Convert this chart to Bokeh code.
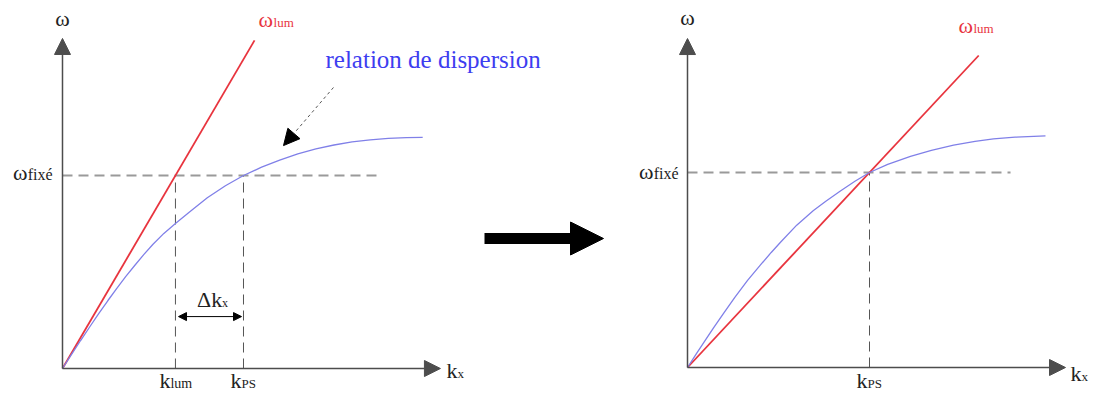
from bokeh.plotting import figure
from bokeh.models import Range1d, Arrow, NormalHead
from bokeh.core.properties import value
from bokeh.embed import file_html
from bokeh.resources import INLINE

# ---------------- data (normalised units: omega_fixe = 1, k_PS = 1) ----------------
omega_fixe = 1.0
k_lum = 0.624
k_ps = 1.0

# left panel: dispersion relation (below the light line)
left_disp_k = [0, 0.05, 0.1, 0.15, 0.2, 0.25, 0.3, 0.35, 0.4, 0.45, 0.5, 0.56, 0.624, 0.7,
               0.8, 0.9, 1.0, 1.1, 1.2, 1.3, 1.4, 1.5, 1.6, 1.7, 1.8, 1.9, 1.99]
left_disp_w = [0, 0.073, 0.145, 0.215, 0.284, 0.351, 0.415, 0.477, 0.535, 0.591, 0.644, 0.70,
               0.751, 0.81, 0.885, 0.947, 1.0, 1.043, 1.08, 1.112, 1.138, 1.158, 1.174,
               1.185, 1.192, 1.196, 1.198]
left_light_k = [0, 1.061]
left_light_w = [0, 1.70]

# right panel: dispersion relation crossing the light line at k_PS
right_disp_k = [0, 0.05, 0.1, 0.143, 0.2, 0.26, 0.33, 0.4, 0.46, 0.511, 0.6, 0.692, 0.76,
                0.84, 0.92, 1.0, 1.1, 1.225, 1.34, 1.462, 1.58, 1.681, 1.8, 1.967]
right_disp_w = [0, 0.072, 0.143, 0.203, 0.28, 0.36, 0.447, 0.525, 0.59, 0.642, 0.73, 0.805,
                0.853, 0.905, 0.955, 1.0, 1.042, 1.083, 1.114, 1.14, 1.16, 1.172, 1.181, 1.188]
right_light_k = [0, 1.6]
right_light_w = [0, 1.6]

FONT = value("Liberation Serif")
AXIS = "#4d4d4d"
RED = "#e8343e"
BLUE_LINE = "#8080e8"
BLUE_TEXT = "#3d3df0"
DASH_H = "#9a9a9a"
DASH_V = "#555555"
TXT = "#222222"

p = figure(width=1093, height=393,
           x_range=Range1d(-0.34254, 5.69613), y_range=Range1d(-0.12953, 1.90674),
           toolbar_location=None, output_backend="svg", min_border=0,
           x_axis_location=None, y_axis_location=None)
p.extra_x_ranges = {"rk": Range1d(-3.77473, 2.23077), "px": Range1d(0, 1093)}
p.extra_y_ranges = {"rw": Range1d(-0.13333, 1.88205), "px": Range1d(393, 0)}
p.grid.visible = False
p.outline_line_color = None
p.background_fill_color = "white"
p.border_fill_color = "white"

LEFT = dict(x_range_name="default", y_range_name="default")
RIGHT = dict(x_range_name="rk", y_range_name="rw")


def txt(x, y, s, size, color=TXT, align="left", x_off=0, rn=LEFT):
    # the renderer puts the baseline about 0.3 em below the anchor: compensate
    px = float(size.replace("px", ""))
    p.text(x=[x], y=[y], text=[s], text_font=FONT, text_font_size=size,
           text_color=color, text_align=align, text_baseline="alphabetic",
           x_offset=x_off, y_offset=-0.3 * px, **rn)


def axes(x_tip, y_tip, rn):
    for xe, ye in [(x_tip, 0), (0, y_tip)]:
        p.add_layout(Arrow(end=NormalHead(size=16, fill_color=AXIS, line_color=AXIS),
                           x_start=0, y_start=0, x_end=xe, y_end=ye,
                           line_color=AXIS, line_width=1.5, **rn))


def sub_label(x, y, main, sub, main_w, sub_w, main_size="22px", sub_size="13px",
              color=TXT, center=True, rn=LEFT):
    start = -(main_w + sub_w) / 2 if center else 0
    txt(x, y, main, main_size, color, "left", start, rn)
    txt(x, y, sub, sub_size, color, "left", start + main_w, rn)


# ---------------- left panel ----------------
axes(2.088, 1.710, LEFT)
p.line([0, 1.768], [omega_fixe, omega_fixe], line_color=DASH_H, line_width=1.8, line_dash="10 6")
p.line([k_lum, k_lum], [0, omega_fixe], line_color=DASH_V, line_width=1, line_dash="10 6")
p.line([k_ps, k_ps], [0, omega_fixe], line_color=DASH_V, line_width=1, line_dash="10 6")
p.line(left_light_k, left_light_w, line_color=RED, line_width=1.8)
p.line(left_disp_k, left_disp_w, line_color=BLUE_LINE, line_width=1.3)

txt(0, 1.777, "ω", "22px", align="center")
sub_label(1.083, 1.772, "ω", "lum", 15, 20, color=RED, center=False)
txt(-0.055, 0.979, "fixé", "16px", align="right")
txt(-0.055, 0.979, "ω", "22px", align="right", x_off=-25)
sub_label(2.122, -0.0466, "k", "x", 11, 7, center=False)
sub_label(k_lum, -0.0984, "k", "lum", 11, 21, sub_size="14px")
sub_label(k_ps, -0.0984, "k", "PS", 11, 15)
# delta k
p.add_layout(Arrow(start=NormalHead(size=8, fill_color="black", line_color="black"),
                   end=NormalHead(size=8, fill_color="black", line_color="black"),
                   x_start=0.641, y_start=0.269, x_end=0.989, y_end=0.269,
                   line_color="black", line_width=1))
sub_label(0.829, 0.321, "Δk", "x", 25, 6, sub_size="12px")
# dispersion annotation
txt(1.453, 1.56, "relation de dispersion", "25px", BLUE_TEXT)
p.add_layout(Arrow(end=NormalHead(size=16, fill_color="black", line_color="black"),
                   x_start=1.497, y_start=1.456, x_end=1.221, y_end=1.155,
                   line_color="#555555", line_width=1, line_dash="3 3"))

# ---------------- middle arrow (page pixels) ----------------
p.add_layout(Arrow(end=NormalHead(size=33, fill_color="black", line_color="black"),
                   x_start=484, y_start=238, x_end=603, y_end=238,
                   line_color="black", line_width=11,
                   x_range_name="px", y_range_name="px"))

# ---------------- right panel ----------------
axes(2.077, 1.687, RIGHT)
p.line([0, 1.775], [omega_fixe, omega_fixe], line_color=DASH_H, line_width=1.8, line_dash="10 6", **RIGHT)
p.line([k_ps, k_ps], [0, omega_fixe], line_color=DASH_V, line_width=1, line_dash="10 6", **RIGHT)
p.line(right_light_k, right_light_w, line_color=RED, line_width=1.8, **RIGHT)
p.line(right_disp_k, right_disp_w, line_color=BLUE_LINE, line_width=1.3, **RIGHT)

txt(0, 1.759, "ω", "22px", align="center", rn=RIGHT)
sub_label(1.489, 1.718, "ω", "lum", 15, 20, color=RED, center=False, rn=RIGHT)
txt(-0.049, 0.969, "fixé", "16px", align="right", rn=RIGHT)
txt(-0.049, 0.969, "ω", "22px", align="right", x_off=-25, rn=RIGHT)
sub_label(2.104, -0.0667, "k", "x", 11, 7, center=False, rn=RIGHT)
sub_label(k_ps, -0.1026, "k", "PS", 11, 15, rn=RIGHT)

open("out.html", "w").write(file_html(p, INLINE))
